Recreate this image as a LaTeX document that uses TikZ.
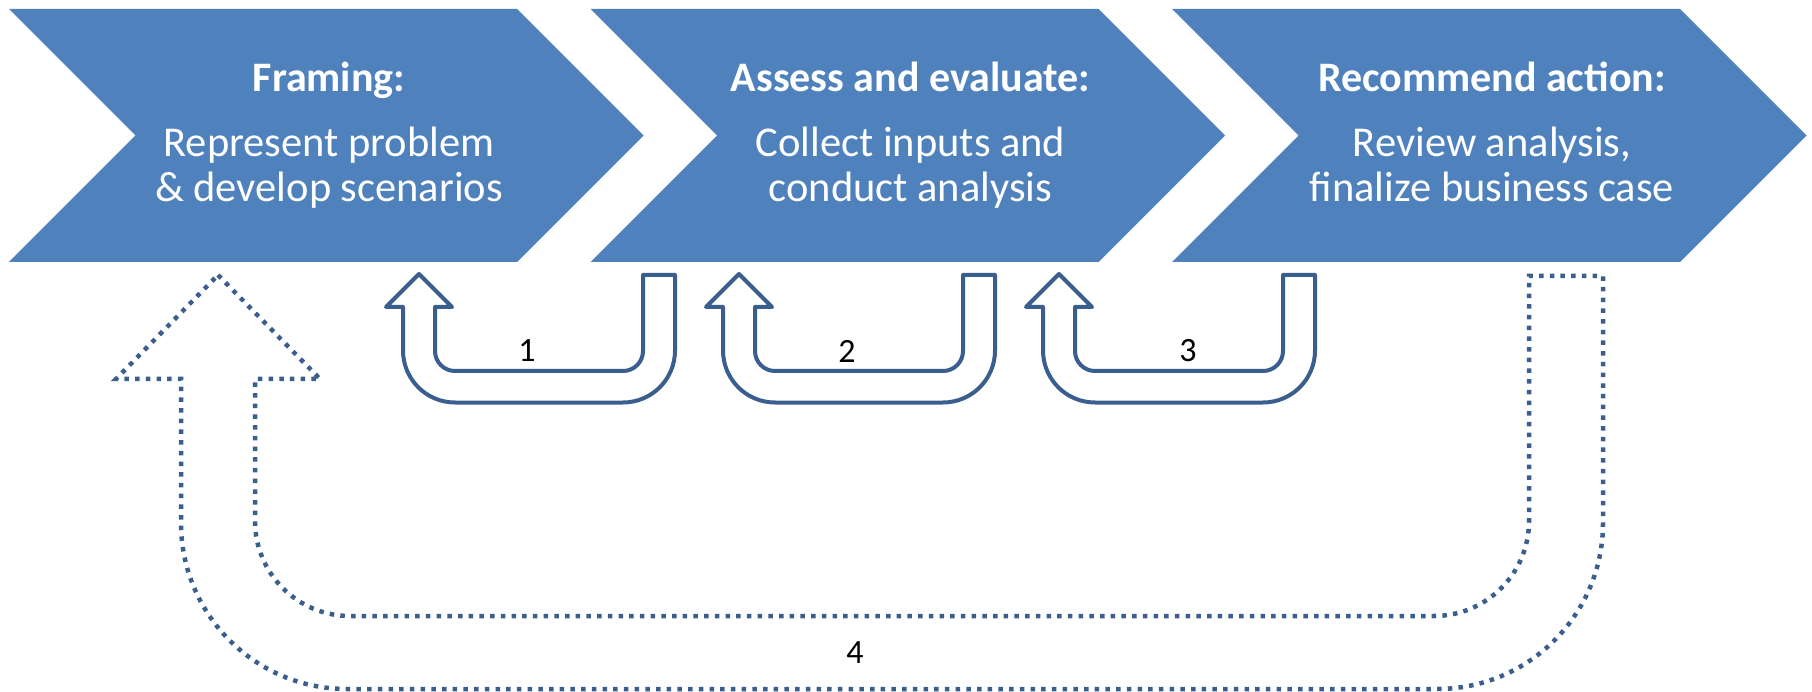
\documentclass[tikz,border=0pt]{standalone}
\usepackage{fontspec}
\setmainfont{Carlito}
\definecolor{chev}{HTML}{4F81BD}
\definecolor{outl}{HTML}{3A5F8F}
\tikzset{
  chevronshape/.style={fill=chev, draw=none},
  chevtext/.style={text=white, inner sep=0pt, anchor=base, font=\fontsize{42.5}{45}\selectfont},
  chevtitle/.style={chevtext, font=\fontsize{42}{45}\selectfont\bfseries},
  uarrow/.style={draw=outl, line width=4pt, line join=round, line cap=round},
  dotarrow/.style={draw=outl, line width=4.5pt, dash pattern=on 4.5pt off 6.2pt},
  numlabel/.style={font=\fontsize{34}{40}\selectfont, inner sep=0pt, anchor=center}
}
\begin{document}
\begin{tikzpicture}[x=1pt,y=1pt]
\useasboundingbox (0,0) rectangle (1812,-692);
% chevrons
\foreach \k/\ti/\la/\lb in {0/Framing:/Represent problem/\& develop scenarios,
  1/Assess and evaluate:/Collect inputs and/conduct analysis,
  2/Recommend action:/{Review analysis,}/finalize business case}{
  \pgfmathsetmacro\L{9+581.5*\k}
  \pgfmathsetmacro\C{\L+320}
  \fill[chevronshape] (\L,-9) -- ++(508,0) -- ++(126.5,-126.5) -- ++(-126.5,-126.5)
     -- ++(-508,0) -- ++(126.5,126.5) -- cycle;
  \node[chevtitle] (title\k) at (\C,-92) {\ti};
  \node[chevtext] (linea\k) at (\C,-157) {\la};
  \node[chevtext] (lineb\k) at (\C,-202) {\lb};
}
% U-turn arrows 1-3
\foreach \k in {0,1,2}{
  \begin{scope}[xshift=320*\k]
  \draw[uarrow] (419,-274) -- (452,-307) -- (435,-307) -- (435,-351)
    arc[start angle=180,end angle=270,radius=20] -- (623,-371)
    arc[start angle=270,end angle=360,radius=20] -- (643,-275) -- (675,-275)
    -- (675,-350.5) arc[start angle=0,end angle=-90,radius=52] -- (455,-402.5)
    arc[start angle=270,end angle=180,radius=52] -- (403,-307) -- (386,-307) -- cycle;
  \end{scope}
}
\node[numlabel] (n1) at (527,-351) {1};
\node[numlabel] (n2) at (847,-351) {2};
\node[numlabel] (n3) at (1188,-351) {3};
% dotted arrow 4
\draw[dotarrow] (218,-275) -- (320,-379) -- (255,-379) -- (255,-521)
  arc[start angle=180,end angle=270,radius=95] -- (1434,-616)
  arc[start angle=270,end angle=360,radius=95] -- (1529,-276) -- (1603,-276)
  -- (1603,-523) arc[start angle=0,end angle=-90,radius=166] -- (347,-689)
  arc[start angle=270,end angle=180,radius=166] -- (181,-379) -- (116,-379) -- cycle;
\node[numlabel] (n4) at (855,-653) {4};
\end{tikzpicture}
\end{document}
